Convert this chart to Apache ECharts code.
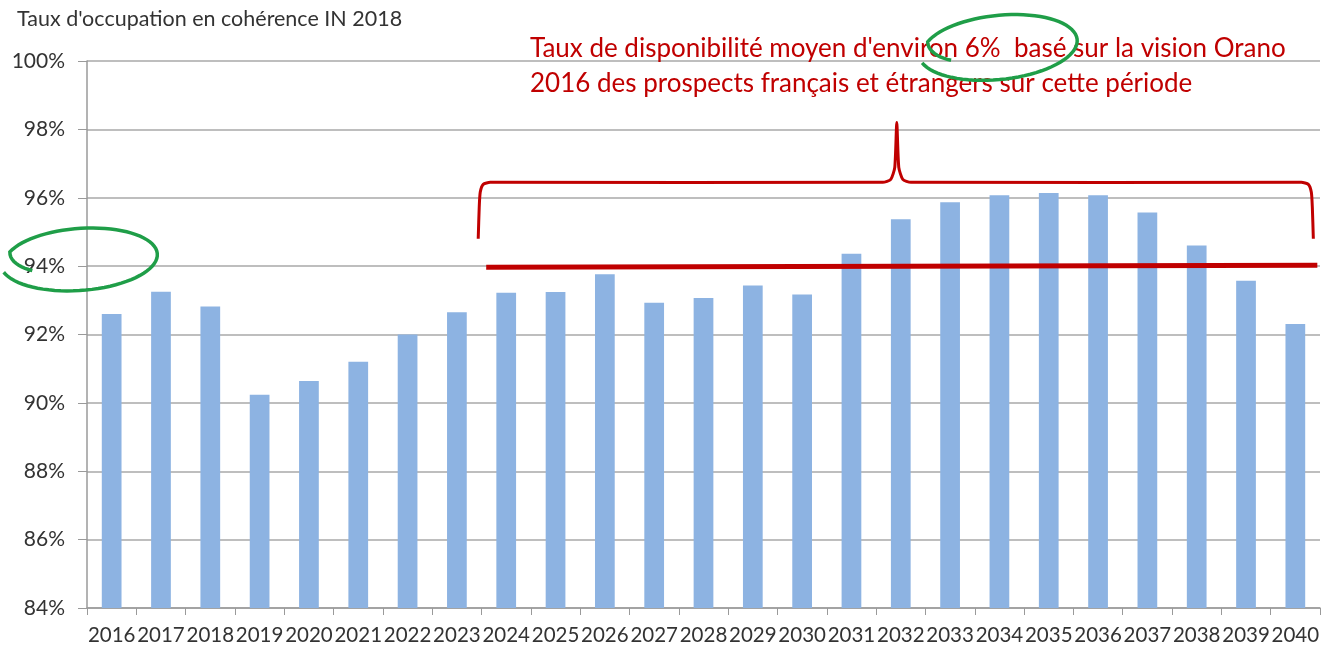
<!DOCTYPE html>
<html>
<head>
<meta charset="utf-8">
<script src="https://cdn.jsdelivr.net/npm/echarts@6/dist/echarts.min.js"></script>
<style>
  * { margin: 0; padding: 0; }
  body { background: #fff; }
  #chart { width: 1326px; height: 651px; }
</style>
</head>
<body>
<div id="chart"></div>
<script>
// données
const years = ['2016', '2017', '2018', '2019', '2020', '2021', '2022', '2023', '2024', '2025', '2026', '2027', '2028',
  '2029', '2030', '2031', '2032', '2033', '2034', '2035', '2036', '2037', '2038', '2039', '2040']
const occupation = [92.6, 93.25, 92.82, 90.24, 90.64, 91.2, 92.0, 92.65, 93.22, 93.24, 93.76, 92.93, 93.07,
  93.43, 93.17, 94.36, 95.37, 95.87, 96.07, 96.14, 96.07, 95.57, 94.6, 93.57, 92.31]
const yMin = 84
const yMax = 100
const yStep = 2
const seuil = 94
const titre = "Taux d'occupation en cohérence IN 2018"
const note = ["Taux de disponibilité moyen d'environ 6%  basé sur la vision Orano",
  '2016 des prospects français et étrangers sur cette période']

const FONT = 'Lato'
const RED = '#C00000'
const GREEN = '#1F9E48'

const chart = echarts.init(document.getElementById('chart'))
chart.setOption({
  animation: false,
  title: {
    text: titre,
    left: 12,
    top: 3,
    textStyle: { fontFamily: FONT, fontSize: 21.5, fontWeight: 'normal', color: '#333' }
  },
  grid: { left: 87, right: 6, top: 61, bottom: 43 },
  xAxis: {
    type: 'category',
    data: years,
    axisLine: { lineStyle: { color: '#9a9a9a', width: 1.5 } },
    axisTick: { show: true, length: 7, lineStyle: { color: '#9a9a9a' } },
    axisLabel: { interval: 0, margin: 17, fontFamily: FONT, fontSize: 20.5, color: '#333' }
  },
  yAxis: {
    type: 'value',
    min: yMin,
    max: yMax,
    interval: yStep,
    axisLine: { show: true, lineStyle: { color: '#9a9a9a', width: 1.5 } },
    axisTick: { show: true, length: 9, lineStyle: { color: '#9a9a9a' } },
    splitLine: { lineStyle: { color: '#a8a8a8', width: 1.5 } },
    axisLabel: { margin: 22, formatter: '{value}%', fontFamily: FONT, fontSize: 21, color: '#333' }
  },
  series: [{
    type: 'bar',
    data: occupation,
    barWidth: '40%',
    itemStyle: { color: '#8DB3E2' }
  }]
})

// annotations (ligne rouge, accolade, ellipses vertes)
const px = (cat, v) => chart.convertToPixel({ gridIndex: 0 }, [cat, v])
const y94 = px('2024', seuil)[1]
const lineL = px('2024', seuil)[0] - 20
const lineR = px('2040', seuil)[0] + 22

const L = px('2024', 0)[0] - 28
const R = px('2040', 0)[0] + 18
const P = px('2032', 0)[0] - 4
const T = px('2024', 96.45)[1]
const B = px('2024', 94.8)[1]
const peak = px('2024', 98.2)[1]
const brace = [[L, B], [L + 1, T + 25], [L + 2, T + 10], [L + 5, T + 2], [L + 12, T], [P - 14, T], [P - 6, T - 3],
  [P - 2, T - 15], [P, peak], [P + 2, T - 15], [P + 6, T - 3], [P + 14, T], [R - 12, T], [R - 5, T + 2],
  [R - 2, T + 10], [R - 1, T + 25], [R, B]]

function loop(cx, cy, rx, ry, rot, s0) {
  const pts = []
  const n = 80
  const t0 = Math.PI - 0.4
  const t1 = 3 * Math.PI - 0.25
  for (let i = 0; i <= n; i++) {
    const t = t0 + (t1 - t0) * i / n
    const k = Math.min(1, s0 + (1 - s0) * i / 10) + 0.06 * i / n
    const x = rx * k * Math.cos(t)
    const y = ry * k * Math.sin(t)
    pts.push([cx + x * Math.cos(rot) - y * Math.sin(rot), cy + x * Math.sin(rot) + y * Math.cos(rot)])
  }
  return pts
}

chart.setOption({
  graphic: [
    {
      type: 'text', left: 530, top: 36,
      style: { text: note[0], fontFamily: FONT, fontSize: 26, fill: RED }
    },
    {
      type: 'text', left: 530, top: 71,
      style: { text: note[1], fontFamily: FONT, fontSize: 26, fill: RED }
    },
    {
      type: 'line', z: 100,
      shape: { x1: lineL, y1: y94 + 1, x2: lineR, y2: y94 - 1 },
      style: { stroke: RED, lineWidth: 5 }
    },
    {
      type: 'polyline', z: 100,
      shape: { points: brace, smooth: 0.2 },
      style: { stroke: RED, lineWidth: 3, fill: null }
    },
    {
      type: 'polyline', z: 100,
      shape: { points: loop(80, 259, 75, 30, -0.07, 0.7) },
      style: { stroke: GREEN, lineWidth: 3.5, fill: null }
    },
    {
      type: 'polyline', z: 100,
      shape: { points: loop(999, 47, 76, 31, -0.1, 0.7) },
      style: { stroke: GREEN, lineWidth: 3.5, fill: null }
    }
  ]
})
</script>
</body>
</html>
